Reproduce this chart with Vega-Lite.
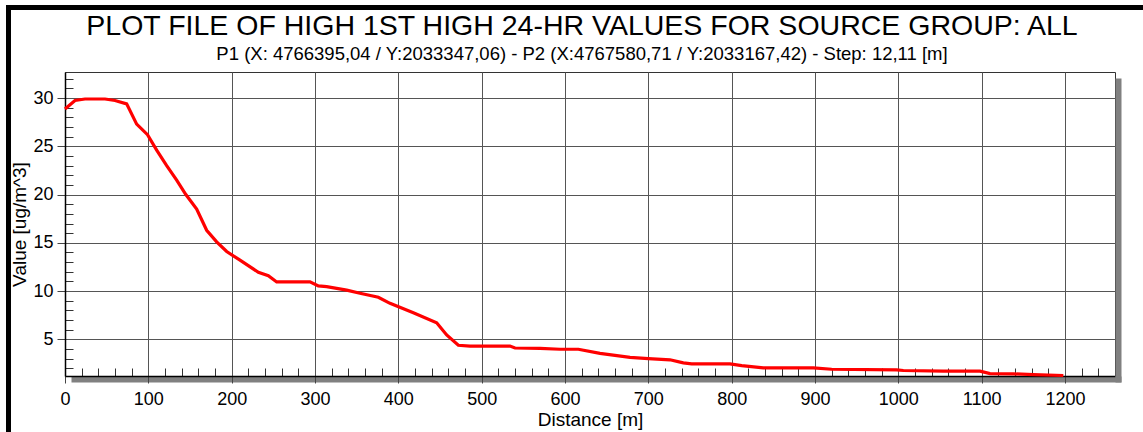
{
  "$schema": "https://vega.github.io/schema/vega-lite/v6.json",
  "width": 1050,
  "height": 304,
  "autosize": {"type": "none"},
  "padding": {"left": 65, "top": 72, "right": 28, "bottom": 56},
  "background": "white",
  "config": {
    "font": "Liberation Sans",
    "view": {"stroke": "#333333", "strokeWidth": 1},
    "axis": {"labelFont": "Liberation Sans", "titleFont": "Liberation Sans", "labelColor": "#000000", "titleColor": "#000000", "titleFontWeight": "normal"}
  },
  "title": {
    "text": "PLOT FILE OF HIGH 1ST HIGH 24-HR VALUES FOR SOURCE GROUP: ALL",
    "subtitle": "P1 (X: 4766395,04 / Y:2033347,06) - P2 (X:4767580,71 / Y:2033167,42) - Step: 12,11 [m]",
    "anchor": "middle",
    "frame": "group",
    "font": "Liberation Sans",
    "fontSize": 28.5,
    "fontWeight": "normal",
    "color": "#000000",
    "subtitleFont": "Liberation Sans",
    "subtitleFontSize": 18.5,
    "subtitleColor": "#000000",
    "subtitlePadding": 4.5,
    "offset": -58,
    "dx": -8
  },
  "data": {
    "values": [
      {"d": 0, "v": 28.86}, {"d": 12, "v": 29.75}, {"d": 24, "v": 29.9}, {"d": 48, "v": 29.9},
      {"d": 60, "v": 29.75}, {"d": 74, "v": 29.4}, {"d": 86, "v": 27.3}, {"d": 99, "v": 26.2},
      {"d": 110, "v": 24.6}, {"d": 122, "v": 23.0}, {"d": 134, "v": 21.5}, {"d": 145, "v": 20.0},
      {"d": 158, "v": 18.5}, {"d": 170, "v": 16.3}, {"d": 182, "v": 15.1}, {"d": 194, "v": 14.1},
      {"d": 210, "v": 13.2}, {"d": 232, "v": 11.95}, {"d": 244, "v": 11.6}, {"d": 254, "v": 10.95},
      {"d": 294, "v": 10.95}, {"d": 304, "v": 10.53}, {"d": 314, "v": 10.46}, {"d": 338, "v": 10.1},
      {"d": 354, "v": 9.77}, {"d": 376, "v": 9.36}, {"d": 390, "v": 8.73}, {"d": 418, "v": 7.76},
      {"d": 446, "v": 6.72}, {"d": 458, "v": 5.45}, {"d": 472, "v": 4.38}, {"d": 486, "v": 4.3},
      {"d": 534, "v": 4.3}, {"d": 540, "v": 4.1}, {"d": 570, "v": 4.07}, {"d": 594, "v": 3.97},
      {"d": 616, "v": 3.97}, {"d": 642, "v": 3.55}, {"d": 678, "v": 3.13}, {"d": 700, "v": 3.0},
      {"d": 726, "v": 2.88}, {"d": 742, "v": 2.56}, {"d": 752, "v": 2.46}, {"d": 798, "v": 2.46},
      {"d": 812, "v": 2.28}, {"d": 838, "v": 2.05}, {"d": 898, "v": 2.05}, {"d": 920, "v": 1.9},
      {"d": 998, "v": 1.84}, {"d": 1006, "v": 1.77}, {"d": 1054, "v": 1.7}, {"d": 1098, "v": 1.7},
      {"d": 1110, "v": 1.45}, {"d": 1138, "v": 1.42}, {"d": 1162, "v": 1.35}, {"d": 1198, "v": 1.25}
    ]
  },
  "layer": [
    {
      "mark": {"type": "line", "opacity": 0},
      "encoding": {
        "x": {"field": "d", "type": "quantitative", "scale": {"domain": [0, 1260], "nice": false, "zero": false},
          "axis": {"orient": "bottom", "translate": 6.5, "offset": -3, "domain": true, "domainColor": "#808080", "domainWidth": 6, "ticks": false, "labels": false, "grid": false, "title": null}},
        "y": {"field": "v", "type": "quantitative", "scale": {"domain": [1.2, 32.7], "nice": false, "zero": false},
          "axis": {"orient": "right", "translate": 6.5, "offset": -3, "domain": true, "domainColor": "#808080", "domainWidth": 6, "ticks": false, "labels": false, "grid": false, "title": null}}
      }
    },
    {
      "mark": {"type": "line", "opacity": 0},
      "encoding": {
        "x": {"field": "d", "type": "quantitative", "scale": {"domain": [0, 1260], "nice": false, "zero": false},
          "axis": {"orient": "bottom", "values": [20,40,60,80,120,140,160,180,220,240,260,280,320,340,360,380,420,440,460,480,520,540,560,580,620,640,660,680,720,740,760,780,820,840,860,880,920,940,960,980,1020,1040,1060,1080,1120,1140,1160,1180,1220,1240], "domain": false, "ticks": true, "tickSize": -8, "tickColor": "#333333", "tickWidth": 1, "labels": false, "grid": false, "title": null}},
        "y": {"field": "v", "type": "quantitative", "scale": {"domain": [1.2, 32.7], "nice": false, "zero": false},
          "axis": {"orient": "left", "values": [2,3,4,6,7,8,9,11,12,13,14,16,17,18,19,21,22,23,24,26,27,28,29,31,32], "domain": false, "ticks": true, "tickSize": -8, "tickColor": "#333333", "tickWidth": 1, "labels": false, "grid": false, "title": null}}
      }
    },
    {
      "mark": {"type": "line", "color": "#ff0000", "strokeWidth": 3.2},
      "encoding": {
        "x": {"field": "d", "type": "quantitative", "scale": {"domain": [0, 1260], "nice": false, "zero": false},
          "axis": {"orient": "bottom", "values": [0,100,200,300,400,500,600,700,800,900,1000,1100,1200], "format": "d", "grid": true, "gridColor": "#555555", "gridWidth": 1, "gridOpacity": 1, "domain": true, "domainColor": "#000000", "domainWidth": 1.5, "ticks": true, "tickSize": 7, "tickColor": "#444444", "labelFontSize": 18, "labelPadding": 7, "labelFlush": false, "title": "Distance [m]", "titleFontSize": 19, "titlePadding": 2}},
        "y": {"field": "v", "type": "quantitative", "scale": {"domain": [1.2, 32.7], "nice": false, "zero": false},
          "axis": {"orient": "left", "values": [5,10,15,20,25,30], "grid": true, "gridColor": "#555555", "gridWidth": 1, "gridOpacity": 1, "domain": true, "domainColor": "#000000", "domainWidth": 1.5, "ticks": true, "tickSize": 8, "tickColor": "#444444", "labelFontSize": 18, "labelPadding": 4, "labelFlush": false, "title": "Value [ug/m^3]", "titleFontSize": 19, "titlePadding": 3.5}}
      }
    },
    {
      "mark": {"type": "rule", "color": "#000000", "strokeWidth": 4, "clip": false},
      "encoding": {
        "x": {"datum": -70, "type": "quantitative", "scale": {"domain": [0, 1260], "nice": false, "zero": false}, "axis": null},
        "x2": {"datum": 1300},
        "y": {"datum": 39.42, "type": "quantitative", "scale": {"domain": [1.2, 32.7], "nice": false, "zero": false}, "axis": null}
      }
    },
    {
      "mark": {"type": "rule", "color": "#000000", "strokeWidth": 4, "clip": false},
      "encoding": {
        "x": {"datum": -67.56, "type": "quantitative", "scale": {"domain": [0, 1260], "nice": false, "zero": false}, "axis": null},
        "y": {"datum": 39.42, "type": "quantitative", "scale": {"domain": [1.2, 32.7], "nice": false, "zero": false}, "axis": null},
        "y2": {"datum": -10}
      }
    }
  ],
  "resolve": {"axis": {"x": "independent", "y": "independent"}}
}
